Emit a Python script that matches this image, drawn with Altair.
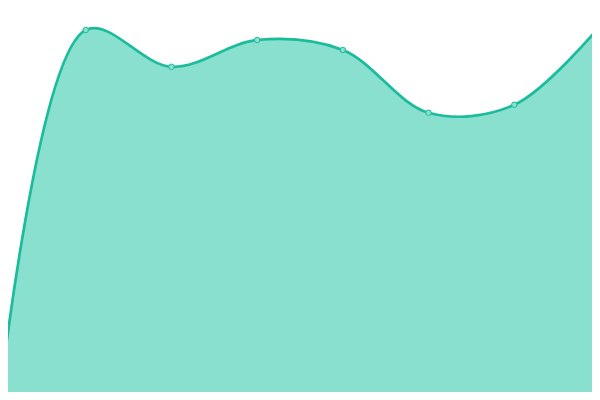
import altair as alt
import pandas as pd

xs = [0, 1, 2, 3, 4, 5, 6, 7]
ys = [0.7, 92.5, 83.3, 90.0, 87.5, 71.8, 73.8, 93.5]

df = pd.DataFrame({"x": xs, "y": ys})

# The page has an 8px margin; the view covers the part of the
# 600x400 frame that lies inside that margin.
xsc = alt.Scale(domain=[7 * 8 / 600, 7 * 592 / 600], nice=False, zero=False)
ysc = alt.Scale(domain=[2, 98], nice=False, zero=False)

base = alt.Chart(df).encode(
    x=alt.X("x:Q", scale=xsc, axis=None),
    y=alt.Y("y:Q", scale=ysc, axis=None),
)

interp = dict(interpolate="catmull-rom")
area = base.mark_area(color="#89e0cf", opacity=1, clip=True, **interp).encode(
    y2=alt.datum(0)
)
line = base.mark_line(color="#1abc9c", strokeWidth=2.7, clip=True, **interp)
pts = base.mark_point(filled=True, size=30, fill="#89e0cf", stroke="#1abc9c",
                      strokeWidth=1, opacity=1, clip=True)

chart = (area + line + pts).properties(
    width=584, height=384,
    padding=0,
    autosize=alt.AutoSizeParams(type="none"),
).configure_view(stroke=None)

chart.save("out.html", embed_options={"renderer": "svg", "actions": False})
